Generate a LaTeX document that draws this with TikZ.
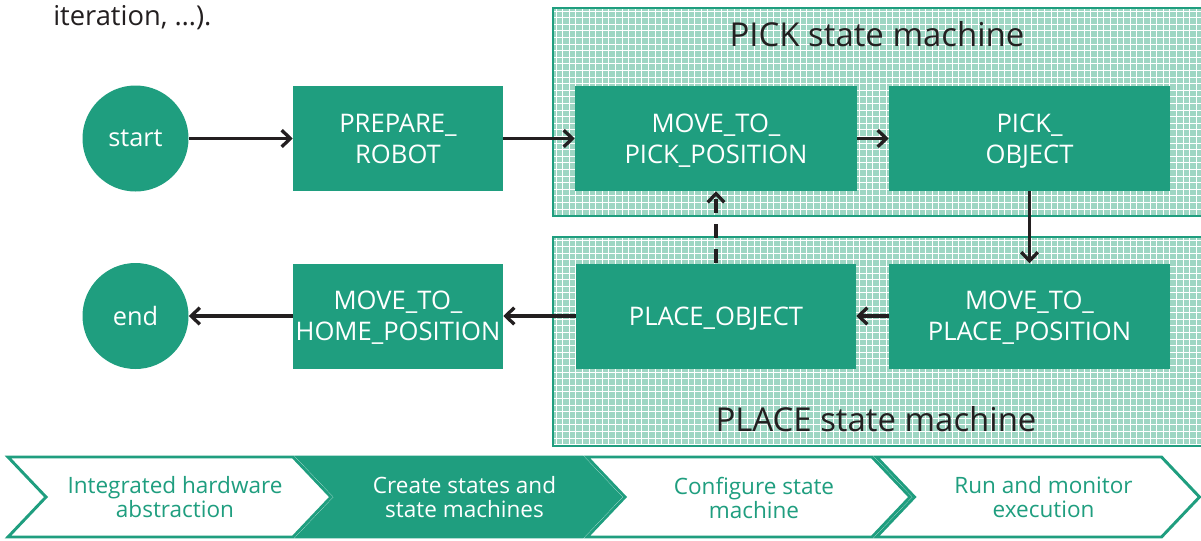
\documentclass[tikz,border=0pt]{standalone}
\usepackage{fontspec}
\setmainfont{Open Sans}
\usetikzlibrary{arrows.meta}
\definecolor{fgreen}{RGB}{31,158,127}
\definecolor{mint}{RGB}{158,214,195}
\definecolor{txt}{RGB}{35,31,32}
\begin{document}
\begin{tikzpicture}[x=0.75pt,y=-0.75pt,
  state/.style={fill=fgreen, text=white, align=center, inner sep=0pt, text depth=0pt, font=\fontsize{19.2}{23.25}\selectfont, minimum height=78.75pt},
  term/.style={circle, fill=fgreen, text=white, minimum size=79.5pt, inner sep=0pt, font=\fontsize{19}{22}\selectfont},
  flow/.style={draw=txt, line width=2.5pt, -{Straight Barb[length=6.5pt,width=12.5pt]}},
  region/.style={draw=fgreen, line width=1.5pt},
  title/.style={text=txt, font=\fontsize{24.7}{29}\selectfont, inner sep=0pt, anchor=base},
  chev/.style={draw=fgreen, line width=2.2pt, line join=miter},
  chevtext/.style={align=center, font=\fontsize{16.9}{18}\selectfont, inner sep=0pt}
]
\useasboundingbox (0,0) rectangle (1201,540);
\clip (0,0) rectangle (1201,540);

% textured regions
\foreach \ya/\yb in {8/216, 237/446} {
  \fill[mint] (553,\ya) rectangle (1215,\yb);
  \begin{scope}
    \clip (553,\ya) rectangle (1215,\yb);
    \foreach \i in {0,...,100} {
      \pgfmathsetmacro{\gx}{556+\i*6.6}
      \draw[white, line width=0.7pt] (\gx,\ya) -- (\gx,\yb);
    }
    \foreach \j in {0,...,33} {
      \pgfmathsetmacro{\gy}{\ya+3+\j*6.6}
      \draw[white, line width=0.7pt] (553,\gy) -- (1215,\gy);
    }
  \end{scope}
  \draw[region] (553,\ya) rectangle (1215,\yb);
}

\node[title] (picktitle) at (877,46) {PICK state machine};
\node[title] (placetitle) at (876,431) {PLACE state machine};

\node[anchor=base west, text=txt, inner sep=0pt, font=\fontsize{20.5}{24}\selectfont] (note) at (53,25) {iteration, …).};

% states
\node[term] (start) at (135.5,138.5) {start};
\node[term] (end) at (135.5,316) {end};
\node[state, minimum width=157.5pt] (prep) at (398,138.5) {PREPARE\_\\ROBOT};
\node[state, minimum width=211.5pt] (mpick) at (716,138.5) {MOVE\_TO\_\\PICK\_POSITION};
\node[state, minimum width=210.75pt] (pobj) at (1029.5,138.5) {PICK\_\\OBJECT};
\node[state, minimum width=157.5pt] (mhome) at (398,316) {MOVE\_TO\_\\HOME\_POSITION};
\node[state, minimum width=210pt] (plobj) at (716,316) {PLACE\_OBJECT};
\node[state, minimum width=210.75pt] (mplace) at (1029.5,316) {MOVE\_TO\_\\PLACE\_POSITION};

% connectors
\draw[flow] (start) -- (prep);
\draw[flow] (prep) -- (mpick);
\draw[flow] (mpick) -- (pobj);
\draw[flow] (pobj) -- (mplace);
\draw[flow] (mplace) -- (plobj);
\draw[flow, dash pattern=on 10.5pt off 8.5pt] (plobj) -- (mpick);
\draw[flow] (plobj) -- (mhome);
\draw[flow] (mhome) -- (end);

% process chevrons
\foreach \L/\f in {8/white, 297.5/fgreen, 587/white, 876.5/white} {
  \draw[chev, fill=\f] (\L,457) -- ({\L+285},457) -- ({\L+323},497) -- ({\L+285},537) -- (\L,537) -- ({\L+38},497) -- cycle;
}
\node[chevtext, text=fgreen] (c1) at (175,497.5) {Integrated hardware\\abstraction};
\node[chevtext, text=white] (c2) at (464.5,497.5) {Create states and\\state machines};
\node[chevtext, text=fgreen] (c3) at (754,497.5) {Configure state\\machine};
\node[chevtext, text=fgreen] (c4) at (1043.5,497.5) {Run and monitor\\execution};
\end{tikzpicture}
\end{document}
